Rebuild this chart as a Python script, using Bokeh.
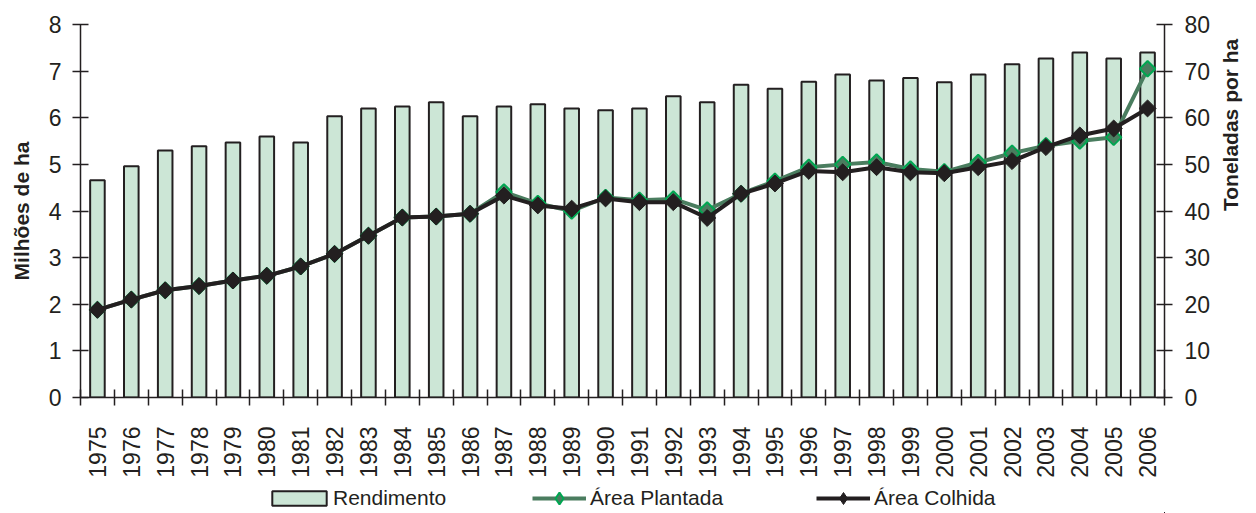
import math
from bokeh.plotting import figure
from bokeh.layouts import column
from bokeh.models import Range1d, LinearAxis, FixedTicker, Legend, LegendItem
from bokeh.embed import file_html
from bokeh.resources import INLINE

years = [1975, 1976, 1977, 1978, 1979, 1980, 1981, 1982, 1983, 1984, 1985,
         1986, 1987, 1988, 1989, 1990, 1991, 1992, 1993, 1994, 1995, 1996,
         1997, 1998, 1999, 2000, 2001, 2002, 2003, 2004, 2005, 2006]

# Rendimento (toneladas por ha) - right axis
rendimento = [46.6, 49.6, 53.0, 53.9, 54.7, 56.0, 54.7, 60.3, 62.0, 62.4, 63.3,
              60.3, 62.4, 62.9, 62.0, 61.6, 62.0, 64.6, 63.3, 67.1, 66.2, 67.7,
              69.3, 68.0, 68.5, 67.6, 69.3, 71.5, 72.7, 74.0, 72.7, 74.0]

# Área Plantada (milhões de ha) - left axis
area_plantada = [1.88, 2.10, 2.30, 2.39, 2.51, 2.61, 2.81, 3.08, 3.47, 3.86, 3.88,
                 3.94, 4.41, 4.16, 4.00, 4.29, 4.23, 4.26, 4.02, 4.37, 4.64, 4.94,
                 5.00, 5.05, 4.90, 4.84, 5.04, 5.24, 5.40, 5.50, 5.58, 7.05]

# Área Colhida (milhões de ha) - left axis
area_colhida = [1.88, 2.10, 2.30, 2.39, 2.51, 2.61, 2.81, 3.08, 3.47, 3.86, 3.88,
                3.94, 4.33, 4.12, 4.05, 4.27, 4.19, 4.19, 3.85, 4.37, 4.59, 4.86,
                4.83, 4.94, 4.83, 4.81, 4.94, 5.07, 5.37, 5.62, 5.77, 6.20]

left_ticks = [0, 1, 2, 3, 4, 5, 6, 7, 8]
right_ticks = [0, 10, 20, 30, 40, 50, 60, 70, 80]
series_labels = ["Rendimento", "Área Plantada", "Área Colhida"]

FONT = "Liberation Sans"
INK = "#231f20"
BAR_FILL = "#cce6d6"
GREEN_LINE = "#4a7d5f"
GREEN_EDGE = "#00a651"

boundaries = [y - 0.5 for y in years] + [years[-1] + 0.5]

p = figure(width=1256, height=483,
           min_border_left=80, min_border_right=88,
           min_border_top=24, min_border_bottom=86,
           x_range=Range1d(boundaries[0], boundaries[-1]),
           y_range=Range1d(left_ticks[0], left_ticks[-1]),
           output_backend="svg", toolbar_location=None,
           x_axis_location=None, y_axis_location=None)
p.extra_y_ranges = {"t": Range1d(right_ticks[0], right_ticks[-1])}
p.outline_line_color = None
p.xgrid.visible = False
p.ygrid.visible = False
p.background_fill_color = "white"
p.border_fill_color = "white"


def style_axis(ax):
    ax.axis_line_color = INK
    ax.axis_line_width = 1.5
    ax.major_tick_line_color = INK
    ax.major_tick_line_width = 1.5
    ax.minor_tick_line_color = INK
    ax.minor_tick_line_width = 1.5
    ax.major_label_text_font = FONT
    ax.major_label_text_font_size = "23px"
    ax.major_label_text_color = INK
    ax.axis_label_text_font = FONT
    ax.axis_label_text_font_size = "21px"
    ax.axis_label_text_font_style = "bold"
    ax.axis_label_text_color = INK


# x axis: labels at years, crossing ticks at category boundaries
xax = LinearAxis(ticker=FixedTicker(ticks=years, minor_ticks=boundaries))
style_axis(xax)
xax.major_tick_in = 0
xax.major_tick_out = 0
xax.minor_tick_in = 8
xax.minor_tick_out = 8
xax.major_label_standoff = 21
xax.major_label_orientation = math.pi / 2
p.add_layout(xax, "below")

yl = LinearAxis(ticker=FixedTicker(ticks=left_ticks), axis_label="Milhões de ha")
style_axis(yl)
yl.major_tick_in = 8
yl.major_tick_out = 8
yl.minor_tick_line_color = None
yl.major_label_standoff = 11
yl.axis_label_standoff = 13
p.add_layout(yl, "left")

yr = LinearAxis(ticker=FixedTicker(ticks=right_ticks), y_range_name="t",
                axis_label="Toneladas por ha")
style_axis(yr)
yr.major_tick_in = 8
yr.major_tick_out = 8
yr.minor_tick_line_color = None
yr.major_label_standoff = 12
yr.axis_label_standoff = 17
if "axis_label_orientation" in yr.properties():
    yr.axis_label_orientation = math.pi / 2
p.add_layout(yr, "right")

bar_style = dict(fill_color=BAR_FILL, line_color=INK, line_width=2)
pl_line_style = dict(line_color=GREEN_LINE, line_width=4)
pl_pt_style = dict(size=11, fill_color=GREEN_LINE, line_color=GREEN_EDGE,
                   line_width=2)
co_line_style = dict(line_color=INK, line_width=4)
co_pt_style = dict(size=12, fill_color=INK, line_color=INK, line_width=1)


def draw_series(fig, y_name, marker, angle):
    b = fig.vbar(x=years, top=rendimento, width=0.43, bottom=0,
                 y_range_name=y_name, **bar_style)
    l1 = fig.line(years, area_plantada, **pl_line_style)
    s1 = fig.scatter(years, area_plantada, marker=marker, angle=angle, **pl_pt_style)
    l2 = fig.line(years, area_colhida, **co_line_style)
    s2 = fig.scatter(years, area_colhida, marker=marker, angle=angle, **co_pt_style)
    return b, l1, s1, l2, s2


# diamonds drawn as squares turned 45 degrees
draw_series(p, "t", "square", math.pi / 4)

# Legend strip below the chart: the same series with ranges that keep the
# data far out of view, so only their legend swatches show.
lg = figure(width=1256, height=30, min_border=0,
            x_range=Range1d(0, 1),
            y_range=Range1d(100, 110),
            output_backend="svg", toolbar_location=None,
            x_axis_location=None, y_axis_location=None)
lg.extra_y_ranges = {"t": Range1d(1000, 1100)}
lg.outline_line_color = None
lg.xgrid.visible = False
lg.ygrid.visible = False
lg.background_fill_color = "white"
lg.border_fill_color = "white"

r_bar, r_pl_l, r_pl_p, r_co_l, r_co_p = draw_series(lg, "t", "diamond", 0)

common = dict(orientation="horizontal", padding=0, margin=0,
              border_line_color=None, background_fill_alpha=0,
              label_text_font=FONT, label_text_font_size="21px",
              label_text_color=INK)

legend_a = Legend(items=[LegendItem(label=series_labels[0], renderers=[r_bar])],
                  location=(185, 3), glyph_width=68, glyph_height=18,
                  label_standoff=0, **common)
lg.add_layout(legend_a, "center")

legend_b = Legend(items=[LegendItem(label=series_labels[1], renderers=[r_pl_l, r_pl_p]),
                         LegendItem(label=series_labels[2], renderers=[r_co_l, r_co_p])],
                  location=(452, 0), glyph_width=54, glyph_height=30,
                  label_standoff=4, spacing=93, **common)
lg.add_layout(legend_b, "center")

layout = column(p, lg, spacing=0)
open("out.html", "w").write(file_html(layout, INLINE))
